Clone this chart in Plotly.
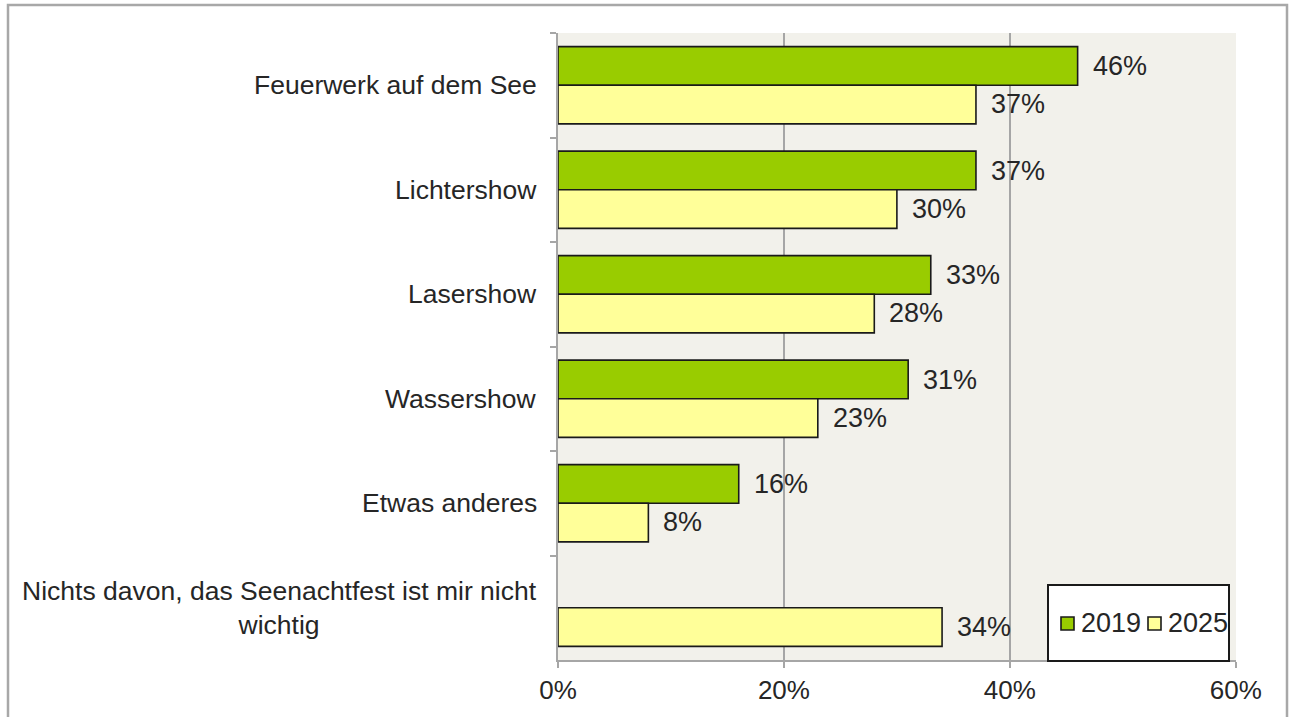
import plotly.graph_objects as go

# Survey: what people want to see at the Seenachtfest (share of respondents, %)
categories = [
    "Feuerwerk auf dem See",
    "Lichtershow",
    "Lasershow",
    "Wassershow",
    "Etwas anderes",
    "Nichts davon, das Seenachtfest ist mir nicht<br>wichtig",
]
values_2019 = [46, 37, 33, 31, 16, None]
values_2025 = [37, 30, 28, 23, 8, 34]
series_names = ["2019", "2025"]
x_ticks = [0, 20, 40, 60]

GREEN = "#99CC00"
YELLOW = "#FFFF99"
GRID = "#A6A6A6"
TEXT = "#262626"
EDGE = "#1a1a1a"
FONT = "Liberation Sans, Arial, sans-serif"

# plot area in pixels, used to place the legend box in paper units
PLOT_L, PLOT_R, PLOT_T, PLOT_B = 558, 1236, 33, 660


def px_x(px):
    return (px - PLOT_L) / (PLOT_R - PLOT_L)


def px_y(py):
    return (PLOT_B - py) / (PLOT_B - PLOT_T)


fig = go.Figure()
series = [(series_names[0], values_2019, GREEN),
          (series_names[1], values_2025, YELLOW)]
for name, vals, color in series:
    fig.add_trace(go.Bar(
        name=name,
        y=categories,
        x=vals,
        orientation="h",
        marker=dict(color=color, line=dict(color=EDGE, width=1.6)),
        hoverinfo="x+y",
        showlegend=False,
    ))

annotations = []
# value labels to the right of each bar
for vals, shift in [(values_2019, 19), (values_2025, -19)]:
    for cat, v in zip(categories, vals):
        if v is None:
            continue
        annotations.append(dict(
            x=v, y=cat, xref="x", yref="y", text=f"{v}%",
            showarrow=False, xanchor="left", yanchor="middle",
            xshift=13, yshift=shift,
            font=dict(family=FONT, size=27, color=TEXT),
        ))
# category labels, centred lines, left of the axis
for cat in categories:
    annotations.append(dict(
        x=0, y=cat, xref="paper", yref="y", text=cat,
        showarrow=False, xanchor="right", yanchor="middle", align="center",
        xshift=-19,
        font=dict(family=FONT, size=26.5, color=TEXT),
    ))

shapes = [
    # outer frame
    dict(type="rect", xref="paper", yref="paper",
         x0=px_x(8), x1=px_x(1287), y0=-0.3, y1=px_y(5),
         line=dict(color="#A8A8A8", width=2.5), fillcolor="rgba(0,0,0,0)",
         layer="below"),
    # legend box
    dict(type="rect", xref="paper", yref="paper",
         x0=px_x(1048), x1=px_x(1229), y0=px_y(661), y1=px_y(585),
         line=dict(color=EDGE, width=2), fillcolor="white",
         layer="above"),
]

# legend entries: swatch + year label
legend_slots = [(1061, 1079), (1148, 1166)]
for (name, _, color), (sx, tx) in zip(series, legend_slots):
    shapes.append(dict(
        type="rect", xref="paper", yref="paper",
        x0=px_x(sx), x1=px_x(sx + 13), y0=px_y(630), y1=px_y(617),
        line=dict(color=EDGE, width=1.6), fillcolor=color, layer="above",
    ))
    annotations.append(dict(
        x=px_x(tx), y=px_y(623), xref="paper", yref="paper", text=name,
        showarrow=False, xanchor="left", yanchor="middle",
        font=dict(family=FONT, size=27, color=TEXT),
    ))

fig.update_layout(
    width=1290, height=717,
    margin=dict(l=PLOT_L, r=1290 - PLOT_R, t=PLOT_T, b=717 - PLOT_B),
    paper_bgcolor="white",
    plot_bgcolor="#F2F1EB",
    barmode="group",
    bargap=0.26,
    bargroupgap=0,
    font=dict(family=FONT, size=26, color=TEXT),
    showlegend=False,
    annotations=annotations,
    shapes=shapes,
)

fig.update_xaxes(
    range=[0, 60.02],
    tickvals=x_ticks,
    ticktext=[f"{t}%" for t in x_ticks],
    showgrid=True, gridcolor=GRID, gridwidth=1.5,
    zeroline=False,
    showline=True, linecolor=GRID, linewidth=2,
    ticks="outside", ticklen=6, tickcolor=GRID, tickwidth=1.5,
    tickfont=dict(family=FONT, size=26, color=TEXT),
    fixedrange=True,
)
fig.update_yaxes(
    type="category",
    categoryorder="array", categoryarray=categories,
    autorange="reversed",
    tickson="boundaries",
    showticklabels=False,
    ticks="outside", ticklen=6, tickcolor=GRID, tickwidth=1.5,
    showgrid=False, zeroline=False,
    showline=True, linecolor=GRID, linewidth=2,
    fixedrange=True,
)

fig.write_html("out.html")
